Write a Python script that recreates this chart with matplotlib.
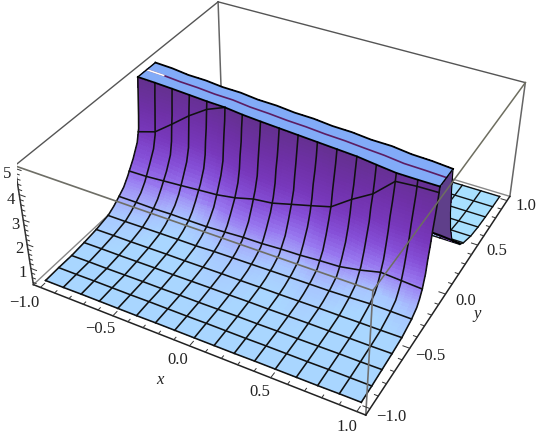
import numpy as np
import matplotlib
matplotlib.use('Agg')
import matplotlib.pyplot as plt
from matplotlib.colors import LinearSegmentedColormap
from mpl_toolkits.mplot3d import proj3d

plt.rcParams['font.family'] = ['Liberation Serif', 'DejaVu Serif']

# mesh stations
x_mesh = [-1, -0.875, -0.75, -0.625, -0.5, -0.375, -0.25, -0.125, 0, 0.125, 0.25, 0.375, 0.5, 0.625, 0.75, 0.875, 1]
y_front = [-1, -0.875, -0.75, -0.625, -0.5, -0.375, -0.25, -0.125, 0]

# where the wall meets the clipped top, front and back side, per x station
wall_top = [.04, .034, .026, .016, .006, .0, -.018, -.03, -.04, -.05, -.06, -.07, -.08, -.10, -.118, -.12, -.12]
plateau_back = [.23, .222, .203, .199, .183, .18, .162, .158, .142, .138, .122, .118, .102, .1, .08, .074, .06]

# height levels on the wall and how far in front of wall_top each level sits
wall_levels = [4.5, 4.0, 3.5, 3.0, 2.5, 2.0, 1.5, 1.2, 1.0, 0.8, 0.65]
wall_drop = [
    [.008, .01, .009, .011, .01, .008, .012, .01, .01, .012, .009, .011, .013, .01, .012, .011, .012],
    [.016, .018, .017, .02, .019, .021, .02, .023, .022, .024, .023, .026, .025, .024, .028, .029, .03],
    [.024, .027, .03, .029, .033, .032, .036, .035, .039, .038, .042, .041, .045, .044, .048, .047, .05],
    [.034, .036, .04, .038, .043, .042, .047, .046, .05, .049, .054, .052, .058, .056, .061, .06, .065],
    [.06, .063, .061, .066, .065, .07, .068, .073, .072, .076, .074, .078, .077, .081, .08, .083, .085],
    [.115, .118, .112, .116, .11, .114, .108, .112, .106, .11, .104, .107, .103, .106, .101, .104, .10],
    [.185, .178, .18, .17, .172, .162, .165, .156, .158, .149, .151, .143, .145, .138, .14, .133, .13],
    [.235, .228, .226, .218, .215, .21, .203, .2, .194, .192, .185, .183, .176, .175, .168, .166, .16],
    [.29, .284, .272, .268, .256, .25, .24, .236, .226, .222, .214, .21, .204, .2, .198, .192, .19],
    [.35, .345, .335, .33, .32, .315, .31, .305, .3, .295, .29, .285, .28, .275, .27, .265, .26],
    [.41, .405, .405, .4, .395, .39, .39, .385, .38, .38, .375, .375, .37, .365, .365, .36, .36],
]

# flat part in front of the wall
flat_y = [-0.5, -0.625, -0.75, -0.875, -1]
flat_z = [
    [.52, .53, .53, .54, .55, .55, .56, .57, .57, .58, .58, .59, .6, .6, .61, .61, .62],
    [.45, .46, .46, .47, .48, .48, .49, .5, .5, .51, .51, .52, .53, .53, .54, .54, .55],
    [.40, .41, .41, .42, .43, .43, .44, .44, .45, .46, .46, .47, .47, .48, .49, .49, .5],
    [.40, .40, .41, .41, .41, .42, .42, .42, .43, .43, .43, .44, .44, .44, .45, .45, .45],
    [.38, .38, .39, .39, .39, .39, .4, .4, .4, .4, .4, .41, .41, .41, .41, .42, .42],
]

# behind the wall
back_levels = [5, 4.2, 3.2, 2.4, 1.7, 1.04]
back_drop = [0, .01, .03, .06, .11, .25]
floor_y = [0.31, 0.375, 0.5, 0.625, 0.75, 0.875, 1]
floor_z = [1.0, 0.8, 0.58, 0.48, 0.43, 0.4, 0.38]

# lighter patches on the wall
wall_tint = [0, -.05, -.1, -.25, -.3, -.15, -.05, 0, -.05, -.15, -.15, -.05, -.1, -.25, -.35, -.25, -.1]

x_ticks = [-1.0, -0.5, 0.0, 0.5, 1.0]
y_ticks = [-1.0, -0.5, 0.0, 0.5, 1.0]
z_ticks = [1, 2, 3, 4, 5]

XL = 1.05
ZLO, ZHI = 0.3, 5.1

surf_cmap = LinearSegmentedColormap.from_list('surf', [
    (0.0, '#A9D6FF'), (0.065, '#A8C6FF'), (0.13, '#A5A8FA'), (0.24, '#9878F0'), (0.39, '#8650D8'),
    (0.565, '#7838BC'), (0.78, '#6E30A6'), (1.0, '#64308F')])


def refine(a, nr, nc):
    a = np.asarray(a, float)
    ri = np.linspace(0, a.shape[0] - 1, (a.shape[0] - 1) * nr + 1)
    ci = np.linspace(0, a.shape[1] - 1, (a.shape[1] - 1) * nc + 1)
    b = np.array([np.interp(ci, np.arange(a.shape[1]), row) for row in a])
    return np.array([np.interp(ri, np.arange(a.shape[0]), col) for col in b.T]).T


fig = plt.figure(figsize=(5.36, 4.34), dpi=100)
ax = fig.add_axes([17.05 / 536, -13.85 / 434, 517.1 / 536, 517.1 / 434], projection='3d', computed_zorder=False)
ax.set_xlim(-XL, XL)
ax.set_ylim(-XL, XL)
ax.set_zlim(ZLO, ZHI)
ax.view_init(36.19, -61.46)
ax.set_proj_type('persp', focal_length=0.441)
ax.set_box_aspect((1, 1, 0.397))
ax.set_axis_off()
M = ax.get_proj()


def label(x, y, z, s, **kw):
    # place text at a data point, as plain 2d text
    u, v, _ = proj3d.proj_transform(x, y, z, M)
    ax.text2D(u, v, s, transform=ax.transData, ha='center', va='center', color='#222222',
              fontsize=12, zorder=10, clip_on=False, **kw)


xm = np.array(x_mesh, float)
top = np.array(wall_top)
back = np.array(plateau_back)

# front surface, rows run from the wall top down to y=-1
ys = [top] + [top - np.array(d) for d in wall_drop] + [np.full(17, v) for v in flat_y]
zs = [np.full(17, 5.0)] + [np.full(17, v) for v in wall_levels] + [np.array(r) for r in flat_z]
Y = np.array(ys)
Z = np.array(zs)
X = np.tile(xm, (Y.shape[0], 1))

Xf, Yf, Zf = refine(X, 4, 3), refine(Y, 4, 3), refine(Z, 4, 3)
tint = refine(np.tile(wall_tint, (Y.shape[0], 1)), 4, 3)
cols = surf_cmap(np.clip((Zf + tint - 0.4) / 4.6, 0, 1))
ax.plot_surface(Xf, Yf, Zf, facecolors=cols, rcount=Xf.shape[0], ccount=Xf.shape[1],
                shade=False, linewidth=0, antialiased=False, zorder=5)

# floor and back wall
Yb = np.tile(np.array(floor_y)[:, None], (1, 17))
Zb = np.tile(np.array(floor_z)[:, None], (1, 17))
Xb = np.tile(xm, (7, 1))
ax.plot_surface(Xb, Yb, Zb, color='#A8E0FF', rcount=7, ccount=17, shade=False, linewidth=0, antialiased=False, zorder=1)
Yw = np.array([back + d for d in back_drop])
Zw = np.array([np.full(17, v) for v in back_levels], float)
Xw = np.tile(xm, (6, 1))
ax.plot_surface(Xw, Yw, Zw, color='#5F3F8A', rcount=6, ccount=17, shade=False, linewidth=0, antialiased=False, zorder=3)

# clipped top
Yp = np.array([top, back])
Xp = np.tile(xm, (2, 1))
ax.plot_surface(Xp, Yp, np.full(Yp.shape, 5.0), color='#82ABF8', rcount=2, ccount=17, shade=False, linewidth=0, antialiased=False, zorder=6)

# mesh lines
lw_mesh = 1.15
for j in range(17):
    ax.plot(X[:, j], Y[:, j], Z[:, j], color='#111111', lw=lw_mesh, zorder=7)
    ax.plot(Xb[:, j], Yb[:, j], Zb[:, j], color='#111111', lw=1.0, zorder=2)
for yv in y_front:
    zl = []
    for j in range(17):
        if yv > top[j]:
            zl.append(np.nan)
        else:
            zl.append(np.interp(yv, Y[::-1, j], Z[::-1, j]))
    ax.plot(xm, np.full(17, yv), zl, color='#111111', lw=lw_mesh, zorder=7)
for i in range(7):
    ax.plot(xm, Yb[i], Zb[i], color='#111111', lw=1.0, zorder=2)
ax.plot(Xw[:, -1], Yw[:, -1], Zw[:, -1], color='k', lw=0.8, zorder=4)
ax.plot(xm, Yw[-1], Zw[-1], color='k', lw=1.4, zorder=4)

# top outline and the line along its middle
mid = (top + back) / 2
ax.plot(xm, top, np.full(17, 5.0), color='k', lw=1.3, zorder=8)
ax.plot(xm, back, np.full(17, 5.0), color='k', lw=1.3, zorder=8)
ax.plot(xm, mid, np.full(17, 5.0), color='#5B1D63', lw=1.2, zorder=8)
ax.plot(xm[:2], mid[:2], [5, 5], color='white', lw=1.2, zorder=8)
ax.plot([-1, -1], [top[0], back[0]], [5, 5], color='k', lw=1.0, zorder=8)
ax.plot([1, 1], [top[-1], back[-1]], [5, 5], color='k', lw=1.0, zorder=8)

# bounding box
ax.plot((-XL, -XL), (XL, XL), (ZLO, ZHI), color='#666666', lw=1.1, zorder=0)
ax.plot((-XL, -XL), (-XL, XL), (ZHI, ZHI), color='#555555', lw=1.0, zorder=0)
ax.plot((-XL, XL), (XL, XL), (ZHI, ZHI), color='#555555', lw=1.0, zorder=0)
ax.plot((XL, XL), (XL, XL), (ZLO, ZHI), color='#666666', lw=1.1, zorder=0)
ax.plot((-XL, -XL), (-XL, XL), (ZLO, ZLO), color='#888888', lw=1.0, zorder=0)
ax.plot((-XL, XL), (XL, XL), (ZLO, ZLO), color='#888888', lw=1.0, zorder=0)
ax.plot((-XL, XL), (-XL, -XL), (ZHI, ZHI), color='#6E6E66', lw=1.2, zorder=9)
ax.plot((XL, XL), (-XL, XL), (ZHI, ZHI), color='#6E6E60', lw=1.1, zorder=9)
ax.plot((XL, XL), (-XL, -XL), (ZLO, ZHI), color='#707070', lw=1.2, zorder=9)
ax.plot((-XL, XL), (-XL, -XL), (ZLO, ZLO), color='#222222', lw=1.1, zorder=9)
ax.plot((XL, XL), (-XL, XL), (ZLO, ZLO), color='#222222', lw=1.1, zorder=9)
ax.plot((-XL, -XL), (-XL, -XL), (ZLO, ZHI), color='#333333', lw=1.1, zorder=9)

# ticks
for v in np.arange(-1, 1.01, 0.1):
    major = abs(v * 2 - round(v * 2)) < 1e-6
    ln = 0.04 if major else 0.022
    ax.plot((v, v), (-XL, -XL + ln), (ZLO, ZLO), color='#333333', lw=0.7, zorder=9)
    ax.plot((XL, XL - ln), (v, v), (ZLO, ZLO), color='#333333', lw=0.7, zorder=9)
for v in np.arange(0.4, 5.01, 0.2):
    major = abs(v - round(v)) < 1e-6
    ln = 0.04 if major else 0.022
    ax.plot((-XL, -XL + ln), (-XL, -XL), (v, v), color='#333333', lw=0.7, zorder=9)

# labels
for v in x_ticks:
    lab = ('%.1f' % v).replace('-', '\u2212')
    off = 0.15 if v == -1.0 else 0.12
    label(v, -XL - off, ZLO, lab)
for v in y_ticks:
    lab = ('%.1f' % v).replace('-', '\u2212')
    label(XL + 0.12, v, ZLO, lab)
for v in z_ticks:
    label(-XL - 0.065, -XL, v - 0.33, str(v))
label(0.0, -XL - 0.29, ZLO, 'x', style='italic')
label(XL + 0.215, -0.07, ZLO, 'y', style='italic')

fig.savefig('out.png', dpi=100)
